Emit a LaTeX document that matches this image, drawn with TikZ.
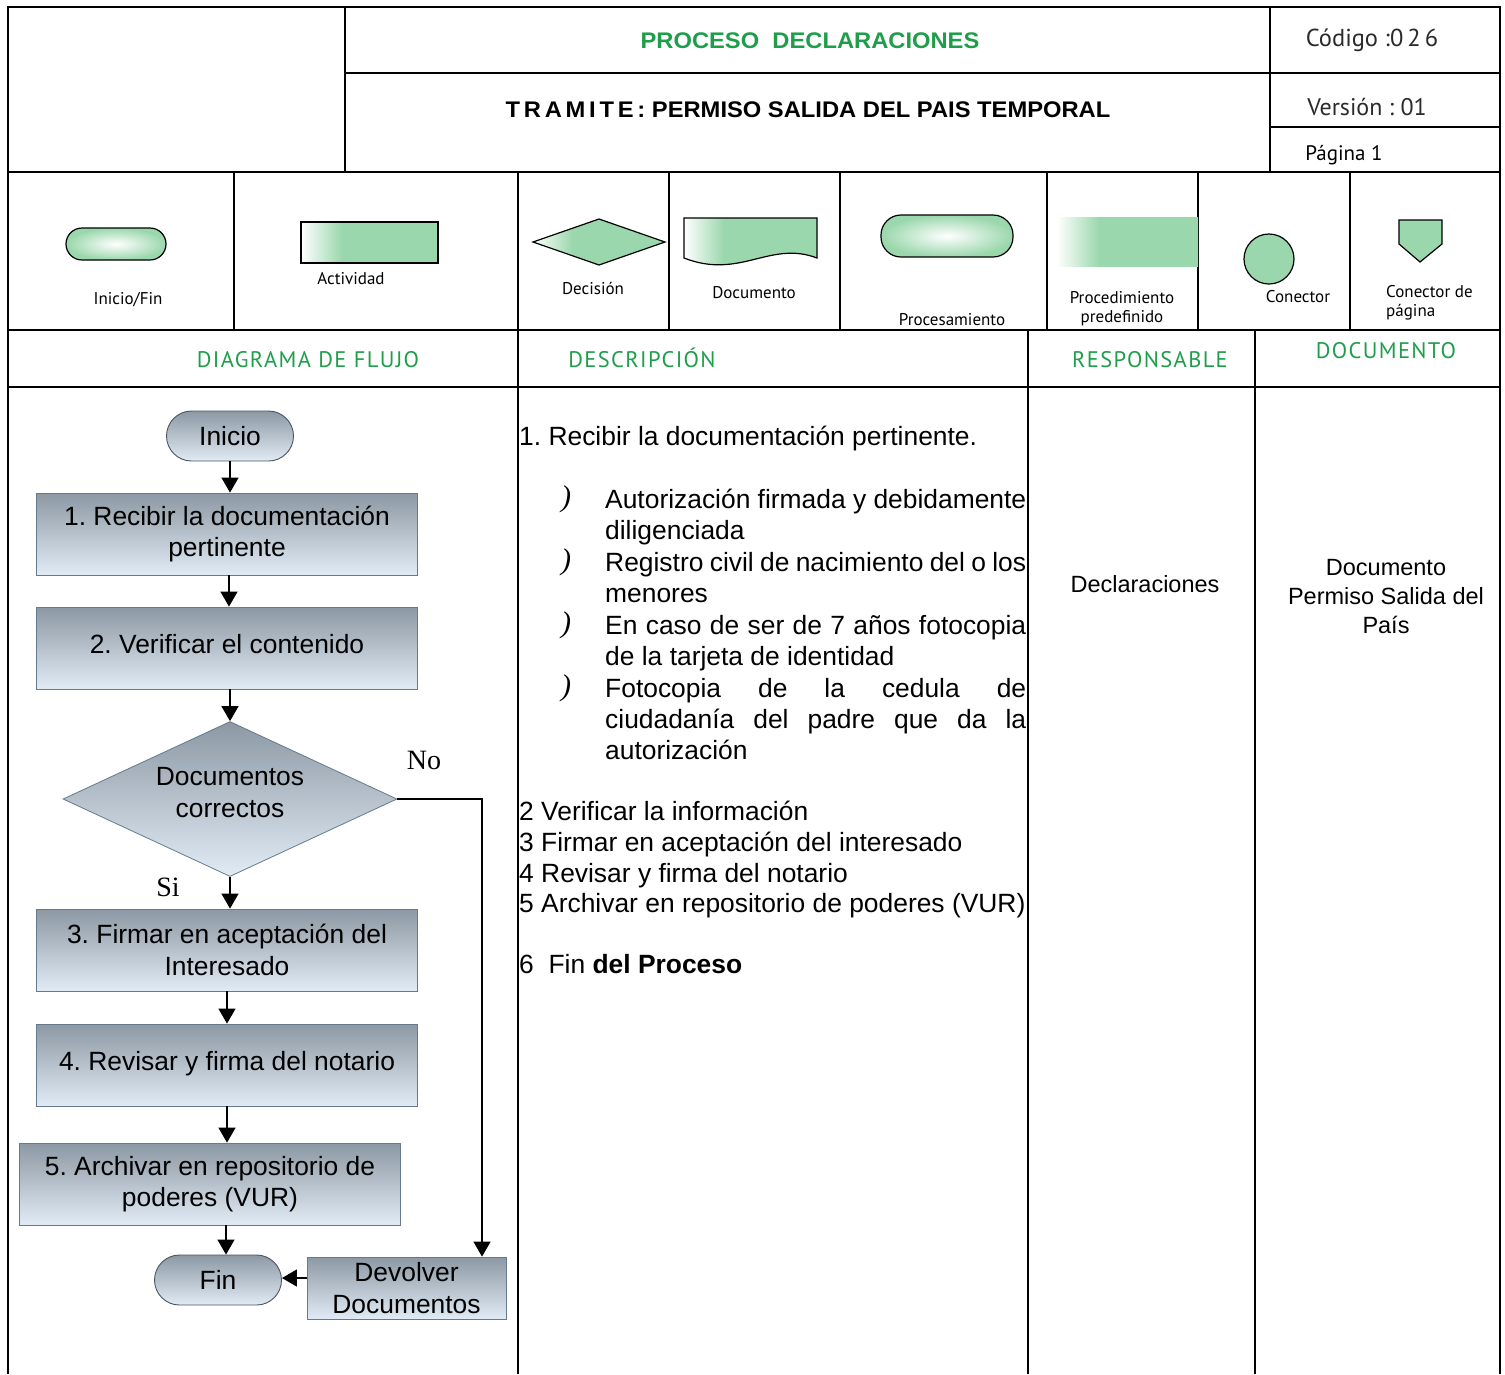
\documentclass[tikz,border=0pt]{standalone}
\usepackage{fontspec}
\setmainfont{Liberation Sans}
\newfontfamily\legfont{PT Sans}
\newfontfamily\colfont[LetterSpace=6]{PT Sans}
\newfontfamily\serfont{Liberation Serif}
\newfontfamily\wideboldfont[FakeStretch=1.05]{Liberation Sans Bold}
\usepackage{xcolor}
\definecolor{mint}{HTML}{9AD7AC}
\definecolor{hdgreen}{HTML}{1E9E4A}
\definecolor{boxtop}{HTML}{8C98A3}
\definecolor{boxbot}{HTML}{E1EBF6}
\definecolor{boxedge}{HTML}{667A8C}
\definecolor{termedge}{HTML}{4A5561}
\definecolor{textgray}{HTML}{2A2A2A}
\usetikzlibrary{shapes.geometric,arrows.meta,positioning,calc}
\pgfdeclarehorizontalshading{mintfade}{100bp}{color(0bp)=(white); color(25bp)=(white); color(40bp)=(mint); color(100bp)=(mint)}
\newcommand\flowfont{\fontsize{26.4}{31.3}\selectfont}
\newcommand\jline[1]{\makebox[421pt][s]{#1}}
\frenchspacing

\begin{document}
\begin{tikzpicture}[x=1pt,y=-1pt,
    grid/.style={line width=2.6pt},
    flow/.style={-{Triangle[width=17pt,length=15pt]}, line width=1.3pt},
    actbox/.style={rectangle, draw=boxedge, line width=0.8pt, top color=boxtop, bottom color=boxbot, minimum width=381pt, minimum height=82pt, inner sep=0pt, align=center, font=\flowfont},
    term/.style={rectangle, rounded corners=25pt, draw=termedge, line width=0.9pt, top color=boxtop, bottom color=boxbot, minimum width=127pt, minimum height=50pt, inner sep=0pt, font=\flowfont},
    decis/.style={diamond, aspect=2.15, draw=boxedge, line width=0.8pt, top color=boxtop, bottom color=boxbot, minimum width=334pt, minimum height=155pt, inner sep=0pt, align=center, font=\flowfont},
    legshape/.style={draw=black, line width=1.2pt},
    leglabel/.style={font=\legfont\fontsize{17}{20}\selectfont, align=center, inner sep=0pt},
    colhead/.style={font=\colfont\fontsize{22.5}{25}\selectfont, text=hdgreen, inner sep=0pt},
    desc/.style={anchor=base west, inner sep=0pt, font=\flowfont},
    bullet/.style={inner sep=0pt, font=\serfont\itshape\fontsize{30}{30}\selectfont},
    yesno/.style={font=\serfont\fontsize{28}{30}\selectfont, inner sep=0pt}]
  \useasboundingbox (0,0) rectangle (1505,1374);

  % table frame
  \draw[grid] (8,1374) -- (8,7) -- (1500,7) -- (1500,1374);
  \draw[grid] (8,172) -- (1500,172);
  \draw[grid] (8,330) -- (1500,330);
  \draw[grid] (8,387) -- (1500,387);
  \draw[grid] (345,7) -- (345,172);
  \draw[grid] (1270,7) -- (1270,172);
  \draw[grid] (345,73) -- (1500,73);
  \draw[grid] (1270,127) -- (1500,127);
  \foreach \x in {234,669,840,1047,1198,1350}
    \draw[grid] (\x,172) -- (\x,330);
  \foreach \x in {518,1028,1255}
    \draw[grid] (\x,330) -- (\x,1374);
  \draw[grid] (518,172) -- (518,330);

  % header
  \node[font=\wideboldfont\fontsize{22.6}{24}\selectfont, text=hdgreen] (proceso) at (810,41) {PROCESO\ \ DECLARACIONES};
  \node[font=\wideboldfont\fontsize{22.6}{24}\selectfont] (tramite) at (808,110) {T\,R\,A\,M\,I\,T\,E\,:\ PERMISO SALIDA DEL PAIS TEMPORAL};
  \node[font=\legfont\fontsize{24.5}{26}\selectfont, text=textgray] (codigo) at (1372,40) {Código :0\,2\,6};
  \node[font=\legfont\fontsize{24}{26}\selectfont, text=textgray] (version) at (1367,107) {Versión : 01};
  \node[font=\legfont\fontsize{21}{24}\selectfont] (pagina) at (1344,155) {Página 1};

  % legend
  \draw[legshape, inner color=white, outer color=mint, rounded corners=16pt] (66,228) rectangle (166,260);
  \node[leglabel] (lgterm) at (128,300) {Inicio/Fin};
  \draw[legshape, shading=mintfade] (301,222) rectangle (438,263);
  \node[leglabel] (lgact) at (351,279) {Actividad};
  \draw[legshape, shading=mintfade] (533,242) -- (599,219) -- (665,242) -- (599,265) -- cycle;
  \node[leglabel] (lgdec) at (593,288) {Decisión};
  \draw[legshape, shading=mintfade] (684,218) -- (817,218) -- (817,258) .. controls (770,240) and (740,280) .. (684,258) -- cycle;
  \node[leglabel] (lgdoc) at (754,293) {Documento};
  \draw[legshape, inner color=white, outer color=mint, rounded corners=20pt] (881,215) rectangle (1013,257);
  \node[leglabel] (lgproc) at (952,320) {Procesamiento};
  \fill[shading=mintfade] (1057,217) rectangle (1198,266);
  \node[leglabel] (lgpred) at (1122,309) {Procedimiento\\[-1pt]predefinido};
  \draw[legshape, fill=mint] (1269,259) circle (25);
  \node[leglabel] (lgcon) at (1298,297) {Conector};
  \draw[legshape, fill=mint] (1399,220) -- (1442,220) -- (1442,244) -- (1420,262) -- (1399,244) -- cycle;
  \node[leglabel, align=left, anchor=west] (lgpag) at (1386,303) {Conector de\\[-1pt]página};

  % column headings
  \node[colhead] (hflujo) at (308,360) {DIAGRAMA DE FLUJO};
  \node[colhead] (hdesc) at (642,358) {DESCRIPCIÓN};
  \node[colhead] (hresp) at (1150,360) {RESPONSABLE};
  \node[colhead] (hdoc) at (1386,351) {DOCUMENTO};

  % flow chart
  \node[term] (inicio) at (230,436) {Inicio};
  \node[actbox] (recibir) at (227,534) {1. Recibir la documentación\\pertinente};
  \node[actbox] (verificar) at (227,648) {\raisebox{8pt}{2. Verificar el contenido}};
  \node[decis, text depth=13pt] (correctos) at (230,799) {Documentos\\correctos};
  \node[actbox] (firmar) at (227,950) {3. Firmar en aceptación del\\Interesado};
  \node[actbox] (revisar) at (227,1065) {\raisebox{9pt}{4. Revisar y firma del notario}};
  \node[actbox] (archivar) at (210,1184) {5. Archivar en repositorio de\\poderes (VUR)};
  \node[term] (fin) at (218,1280) {Fin};
  \node[actbox, minimum width=199pt, minimum height=62pt] (devolver) at (406.5,1288) {Devolver\\Documentos};
  \node[yesno] (no) at (424,760) {No};
  \node[yesno] (si) at (168,887) {Si};

  \draw[flow] (inicio.south) -- (inicio.south |- recibir.north);
  \draw[flow] ([xshift=2pt]recibir.south) -- ([xshift=2pt]verificar.north);
  \draw[flow] (correctos.north |- verificar.south) -- (correctos.north);
  \draw[flow] (correctos.south) -- (correctos.south |- firmar.north);
  \draw[flow] (firmar.south) -- (revisar.north);
  \draw[flow] (revisar.south) -- (revisar.south |- archivar.north);
  \draw[flow] ([xshift=8pt]fin.north |- archivar.south) -- ([xshift=8pt]fin.north);
  \draw[flow] (correctos.east) -| ([xshift=75.5pt]devolver.north);
  \draw[flow] ([yshift=2pt]fin.east -| devolver.west) -- ([yshift=2pt]fin.east);

  % description
  \node[desc] (d1) at (519,445) {1. Recibir la documentación pertinente.};
  \foreach \y [count=\i] in {499,562,625,688}
    \node[bullet] (b\i) at (566,\y) {)};
  \node[desc] (d1a) at (605,508) {\jline{Autorización firmada y debidamente}};
  \node[desc] (d1b) at (605,539) {diligenciada};
  \node[desc] (d1c) at (605,571) {\jline{Registro civil de nacimiento del o los}};
  \node[desc] (d1d) at (605,602) {menores};
  \node[desc] (d1e) at (605,634) {\jline{En caso de ser de 7 años fotocopia}};
  \node[desc] (d1f) at (605,665) {de la tarjeta de identidad};
  \node[desc] (d1g) at (605,697) {\jline{Fotocopia de la cedula de}};
  \node[desc] (d1h) at (605,728) {\jline{ciudadanía del padre que da la}};
  \node[desc] (d1i) at (605,759) {autorización};
  \node[desc] (d2) at (519,820) {2 Verificar la información};
  \node[desc] (d3) at (519,851) {3 Firmar en aceptación del interesado};
  \node[desc] (d4) at (519,882) {4 Revisar y firma del notario};
  \node[desc] (d5) at (519,912) {5 Archivar en repositorio de poderes (VUR)};
  \node[desc] (d6) at (519,973) {6\ \ Fin \textbf{del Proceso}};

  % responsable / documento
  \node[font=\fontsize{23.5}{29}\selectfont] (resp) at (1145,584) {Declaraciones};
  \node[font=\fontsize{23.5}{29}\selectfont, align=center] (docu) at (1386,597) {Documento\\Permiso Salida del\\País};
\end{tikzpicture}
\end{document}
